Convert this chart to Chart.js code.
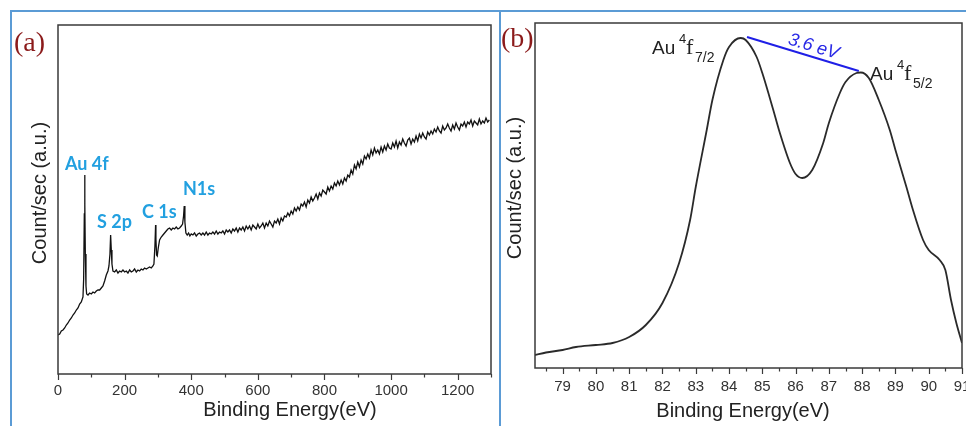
<!DOCTYPE html>
<html><head><meta charset="utf-8">
<script src="https://cdn.jsdelivr.net/npm/chart.js@4/dist/chart.umd.min.js"></script>
<style>
html,body{margin:0;padding:0;background:#fff;}
#wrap{position:relative;width:966px;height:426px;overflow:hidden;background:#fff;}
#ca{position:absolute;left:0;top:0;}
#cb{position:absolute;left:500px;top:0;}
.bl{position:absolute;background:#5b9bd5;}
</style></head><body>
<div id="wrap">
<canvas id="ca" width="500" height="426"></canvas>
<canvas id="cb" width="466" height="426"></canvas>
<div class="bl" style="left:10px;top:10px;width:956px;height:2px"></div>
<div class="bl" style="left:10px;top:10px;width:2px;height:416px"></div>
<div class="bl" style="left:499px;top:10px;width:2px;height:416px"></div>
</div>
<script>
// ---------- Panel (a): XPS survey ----------
const surveyEnergy = [
  0,5,10,15,20,25,30,35,40,45,
  50,55,60,65,70,75,77,79,80,81,
  82,84,86,90,95,100,105,110,115,120,
  125,130,135,140,145,150,153,156,158,160,
  162,165,170,175,180,185,190,195,200,205,
  210,215,220,225,230,235,240,245,250,255,
  260,265,270,275,280,285,288,291,293,294,
  296,298,301,305,310,315,320,325,330,335,
  340,345,350,355,360,365,370,374,377,379,
  381,384,388,392,396,400,405,410,415,420,
  425,430,435,440,445,450,455,460,465,470,
  475,480,485,490,495,500,505,510,515,520,
  525,530,535,540,545,550,555,560,565,570,
  575,580,585,590,595,600,605,610,615,620,
  625,630,635,640,645,650,655,660,665,670,
  675,680,685,690,695,700,705,710,715,720,
  725,730,735,740,745,750,755,760,765,770,
  775,780,785,790,795,800,805,810,815,820,
  825,830,835,840,845,850,855,860,865,870,
  875,880,885,890,895,900,905,910,915,920,
  925,930,935,940,945,950,955,960,965,970,
  975,980,985,990,995,1000,1005,1010,1015,1020,
  1025,1030,1035,1040,1045,1050,1055,1060,1065,1070,
  1075,1080,1085,1090,1095,1100,1105,1110,1115,1120,
  1125,1130,1135,1140,1145,1150,1155,1160,1165,1170,
  1175,1180,1185,1190,1195,1200,1205,1210,1215,1220,
  1225,1230,1235,1240,1245,1250,1255,1260,1265,1270,
  1275,1280,1285,1290,1295
];
const surveyCounts = [
  39,40,43,44,46,49,51,54,56,59,
  61,64,66,70,72,77,95,160,199,170,
  120,88,80,79,81,80,82,81,83,84,
  84,86,88,93,99,103,108,120,139,124,
  110,103,102,104,101,103,102,104,102,103,
  101,104,102,103,105,102,104,103,105,104,
  106,105,106,107,106,108,110,128,149,135,
  119,118,126,134,137,139,141,143,145,146,
  144,146,145,147,145,146,148,150,158,168,
  152,141,139,141,138,140,139,141,138,140,
  141,139,141,139,142,139,141,140,142,140,
  143,140,142,141,143,140,144,142,144,141,
  145,143,146,142,146,144,147,143,148,145,
  148,144,149,147,145,150,146,148,151,146,
  151,148,153,150,147,153,151,155,150,156,
  153,158,157,161,158,163,160,166,163,167,
  164,170,168,172,167,174,171,177,173,176,
  180,175,181,178,184,182,180,187,183,188,
  185,191,188,193,189,194,190,196,193,199,
  197,204,200,209,205,212,207,214,210,218,
  215,220,216,224,219,226,221,224,220,227,
  222,228,224,230,226,225,231,227,233,226,
  232,229,235,231,228,234,236,230,235,232,
  238,233,240,236,241,237,235,242,239,243,
  240,245,242,247,243,241,248,244,246,250,
  246,243,249,245,251,247,244,250,248,252,
  247,252,250,254,248,253,251,249,255,250,
  253,251,256,252,254
];
const tickValuesA = [0,200,400,600,800,1000,1200];
const minorTicksA = [100,300,500,700,900,1100,1300];
const peakNamesA = ['Au 4f','S 2p','C 1s','N1s'];

// ---------- Panel (b): Au 4f high resolution ----------
const auEnergy = [78.17,78.5,79.0,79.4,80.0,80.5,81.0,81.5,82.0,82.5,82.83,83.0,83.33,83.5,83.83,84.0,84.35,84.5,84.83,85.0,85.33,85.5,85.83,86.0,86.2,86.5,86.83,87.0,87.33,87.5,87.83,87.96,88.2,88.5,88.83,89.0,89.33,89.5,89.83,90.0,90.33,90.5,90.67,90.83,91.0];
const auCounts = [13,15.5,18,21,23,25,31,43,65,105,148,181,238,268,308,321,330,328,311,295,258,238,205,194,190,198,225,245,275,286,295,295.5,290,268,238,218,181,161,128,118,108,98,68,45,25];
const splitEnergy = [84.54,87.90];
const splitCounts = [331,297];
const splitLabel = '3.6 eV';
const tickValuesB = [79,80,81,82,83,84,85,86,87,88,89,90,91];
const minorTicksB = [78.5,79.5,80.5,81.5,82.5,83.5,84.5,85.5,86.5,87.5,88.5,89.5,90.5];

const AX = '#333';
const SANS = '"Liberation Sans", Arial, sans-serif';

function xScale(min, max, ticks, pad, h) {
  return {
    type: 'linear', min, max,
    grid: { display: false, drawTicks: false },
    border: { display: false },
    afterBuildTicks: s => { s.ticks = ticks.map(v => ({ value: v })); },
    afterFit: s => { s.height = h; s.paddingLeft = 0; s.paddingRight = 0; },
    ticks: { color: AX, font: { family: SANS, size: 15 }, padding: pad, autoSkip: false, maxRotation: 0, callback: v => String(v) }
  };
}

function drawFrame(ctx, a) {
  ctx.strokeStyle = '#3a3a3a'; ctx.lineWidth = 1.5;
  ctx.strokeRect(a.left, a.top, a.right - a.left, a.bottom - a.top);
}
function drawTicks(ctx, a, x, majors, minors) {
  ctx.strokeStyle = '#3a3a3a'; ctx.lineWidth = 1.2;
  ctx.beginPath();
  majors.forEach(v => { const p = Math.round(x.getPixelForValue(v)) + 0.5; ctx.moveTo(p, a.bottom); ctx.lineTo(p, a.bottom + 6); });
  minors.forEach(v => { const p = Math.round(x.getPixelForValue(v)) + 0.5; ctx.moveTo(p, a.bottom); ctx.lineTo(p, a.bottom + 3.5); });
  ctx.stroke();
}
function drawTitles(ctx, xt, xx, xy, yt, yx, yy) {
  ctx.fillStyle = '#222';
  ctx.font = '20px ' + SANS;
  ctx.textAlign = 'center'; ctx.textBaseline = 'middle';
  ctx.fillText(xt, xx, xy);
  ctx.save(); ctx.translate(yx, yy); ctx.rotate(-Math.PI / 2); ctx.fillText(yt, 0, 0); ctx.restore();
}

const decorA = {
  id: 'decorA',
  afterDraw(chart) {
    const { ctx, chartArea: a, scales: { x } } = chart;
    ctx.save();
    drawFrame(ctx, a);
    drawTicks(ctx, a, x, tickValuesA, minorTicksA);
    drawTitles(ctx, 'Binding Energy(eV)', 290, 410, 'Count/sec (a.u.)', 40, 193);
    ctx.fillStyle = '#8b1a1a'; ctx.font = '28px "Liberation Serif", "Times New Roman", serif';
    ctx.textAlign = 'left'; ctx.textBaseline = 'middle';
    ctx.fillText('(a)', 14, 44);
    ctx.fillStyle = '#22a0e0'; ctx.font = 'bold 18px Lato, "Open Sans", sans-serif';
    const pos = [[65, 164], [97, 222], [142, 212], [183, 189]];
    peakNamesA.forEach((t, i) => ctx.fillText(t, pos[i][0], pos[i][1]));
    ctx.restore();
  }
};

new Chart(document.getElementById('ca'), {
  type: 'line',
  data: { datasets: [{
    data: surveyEnergy.map((e, i) => ({ x: e, y: surveyCounts[i] })),
    borderColor: '#111', borderWidth: 1.3, pointRadius: 0, tension: 0, fill: false
  }] },
  options: {
    responsive: false, animation: false, devicePixelRatio: 1,
    layout: { padding: { left: 58, top: 25, right: 9, bottom: 0 } },
    plugins: { legend: { display: false }, tooltip: { enabled: false } },
    scales: {
      x: xScale(0, 1300, tickValuesA, 8, 52),
      y: { type: 'linear', display: false, min: 0, max: 349 }
    }
  },
  plugins: [decorA]
});

const decorB = {
  id: 'decorB',
  afterDraw(chart) {
    const { ctx, chartArea: a, scales: { x, y } } = chart;
    ctx.save();
    drawFrame(ctx, a);
    drawTicks(ctx, a, x, tickValuesB, minorTicksB);
    drawTitles(ctx, 'Binding Energy(eV)', 243, 411, 'Count/sec (a.u.)', 15, 188);
    ctx.fillStyle = '#8b1a1a'; ctx.font = '28px "Liberation Serif", "Times New Roman", serif';
    ctx.textAlign = 'left'; ctx.textBaseline = 'middle';
    ctx.fillText('(b)', 1, 40);
    // split label
    const x1 = x.getPixelForValue(splitEnergy[0]), y1 = y.getPixelForValue(splitCounts[0]);
    const x2 = x.getPixelForValue(splitEnergy[1]), y2 = y.getPixelForValue(splitCounts[1]);
    const ang = Math.atan2(y2 - y1, x2 - x1);
    ctx.save();
    ctx.translate((x1 + x2) / 2, (y1 + y2) / 2); ctx.rotate(ang);
    ctx.fillStyle = '#2a2ae6'; ctx.font = 'italic 18px ' + SANS;
    ctx.textAlign = 'center'; ctx.textBaseline = 'alphabetic';
    ctx.fillText(splitLabel, 8, -5);
    ctx.restore();
    // peak labels
    ctx.fillStyle = '#222'; ctx.textBaseline = 'alphabetic'; ctx.textAlign = 'left';
    function lab(x0, base, sub) {
      ctx.font = '19px ' + SANS; ctx.fillText('Au', x0, base);
      ctx.font = '13px ' + SANS; ctx.fillText('4', x0 + 27, base - 11);
      ctx.font = '22px "Liberation Serif", serif'; ctx.fillText('f', x0 + 34, base);
      ctx.font = '14px ' + SANS; ctx.fillText(sub, x0 + 43, base + 8);
    }
    lab(152, 54, '7/2');
    lab(370, 80, '5/2');
    ctx.restore();
  }
};

new Chart(document.getElementById('cb'), {
  type: 'line',
  data: { datasets: [
    { data: auEnergy.map((e, i) => ({ x: e, y: auCounts[i] })),
      borderColor: '#2a2a2a', borderWidth: 1.8, pointRadius: 0, cubicInterpolationMode: 'monotone', fill: false },
    { data: splitEnergy.map((e, i) => ({ x: e, y: splitCounts[i] })),
      borderColor: '#1f1fe6', borderWidth: 2, pointRadius: 0, tension: 0, fill: false }
  ] },
  options: {
    responsive: false, animation: false, devicePixelRatio: 1,
    layout: { padding: { left: 35, top: 23, right: 4, bottom: 0 } },
    plugins: { legend: { display: false }, tooltip: { enabled: false } },
    scales: {
      x: xScale(78.17, 91, tickValuesB, 10, 58),
      y: { type: 'linear', display: false, min: 0, max: 345 }
    }
  },
  plugins: [decorB]
});
</script>
</body></html>
